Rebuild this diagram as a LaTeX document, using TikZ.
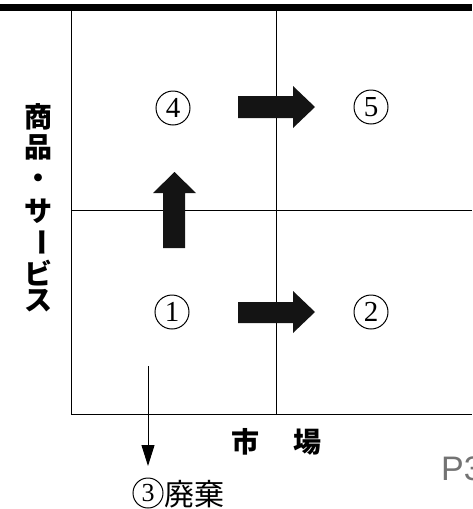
\documentclass[tikz,border=0pt]{standalone}
\usepackage{fontspec}
\setmainfont{Liberation Serif}
\newfontfamily\jp{Noto Sans CJK JP}
\newfontfamily\lsans{Liberation Sans}
\usetikzlibrary{arrows.meta}
\begin{document}
\begin{tikzpicture}[x=1pt,y=-1pt,
  gridline/.style={line width=1.5pt},
  circnum/.style={circle,draw,line width=1pt,minimum size=34pt,inner sep=0pt,font=\fontsize{29}{29}\selectfont},
  blockarrow/.style={fill=black!92},
  vlab/.style={inner sep=0pt,font=\jp\bfseries\fontsize{28}{28}\selectfont},
  hlab/.style={inner sep=0pt,font=\jp\bfseries\fontsize{28}{28}\selectfont}]
\useasboundingbox (0,0) rectangle (472,509);
\clip (0,0) rectangle (472,509);
% top bar
\fill (0,4) rectangle (472,11);
% grid
\coordinate (lt) at (71.5,11);
\coordinate (lb) at (71.5,414.5);
\coordinate (mt) at (276.5,11);
\coordinate (mb) at (276.5,414.5);
\coordinate (hl) at (71.5,210.5);
\coordinate (hr) at (472,210.5);
\coordinate (br) at (472,414.5);
\draw[gridline] (lt) -- (lb) -- (br);
\draw[gridline] (mt) -- (mb);
\draw[gridline] (hl) -- (hr);
% circled numbers
\node[circnum] (n4) at (173,108) {4};
\node[circnum] (n5) at (371,107) {5};
\node[circnum] (n1) at (172,312) {1};
\node[circnum] (n2) at (371,312) {2};
% block arrows
\fill[blockarrow] (238,96) -- (293,96) -- (293,86) -- (315,107) -- (293,128) -- (293,118) -- (238,118) -- cycle;
\fill[blockarrow] (238,302) -- (293,302) -- (293,291) -- (315,312) -- (293,333) -- (293,323) -- (238,323) -- cycle;
\fill[blockarrow] (163,248) -- (163,193) -- (153,193) -- (174.5,172) -- (196,193) -- (185,193) -- (185,248) -- cycle;
% discard arrow
\coordinate (d0) at (148,366);
\coordinate (d1) at (148,466);
\draw[line width=1pt,-{Triangle[length=21pt,width=13pt]}] (d0) -- (d1);
\node[circnum,minimum size=30pt,font=\fontsize{26}{26}\selectfont] (n3) at (148,493) {3};
\node[anchor=west,inner sep=0pt,font=\jp\fontsize{30}{30}\selectfont] (haiki) at (164,494) {廃棄};
% vertical axis label
\node[vlab] (v1) at (38,117) {商};
\node[vlab] (v2) at (38,147) {品};
\node[vlab] (v3) at (38,181) {・};
\node[vlab] (v4) at (38,211) {サ};
\node[vlab,rotate=-90] (v5) at (38,242) {ー};
\node[vlab] (v6) at (38,273) {ビ};
\node[vlab] (v7) at (38,301) {ス};
% horizontal axis label
\node[hlab] (h1) at (245,442) {市};
\node[hlab] (h2) at (307,442) {場};
% page mark
\node[anchor=west,inner sep=0pt,text=black!55,font=\lsans\fontsize{34}{34}\selectfont] (p3) at (441,469) {P3};
\end{tikzpicture}
\end{document}
